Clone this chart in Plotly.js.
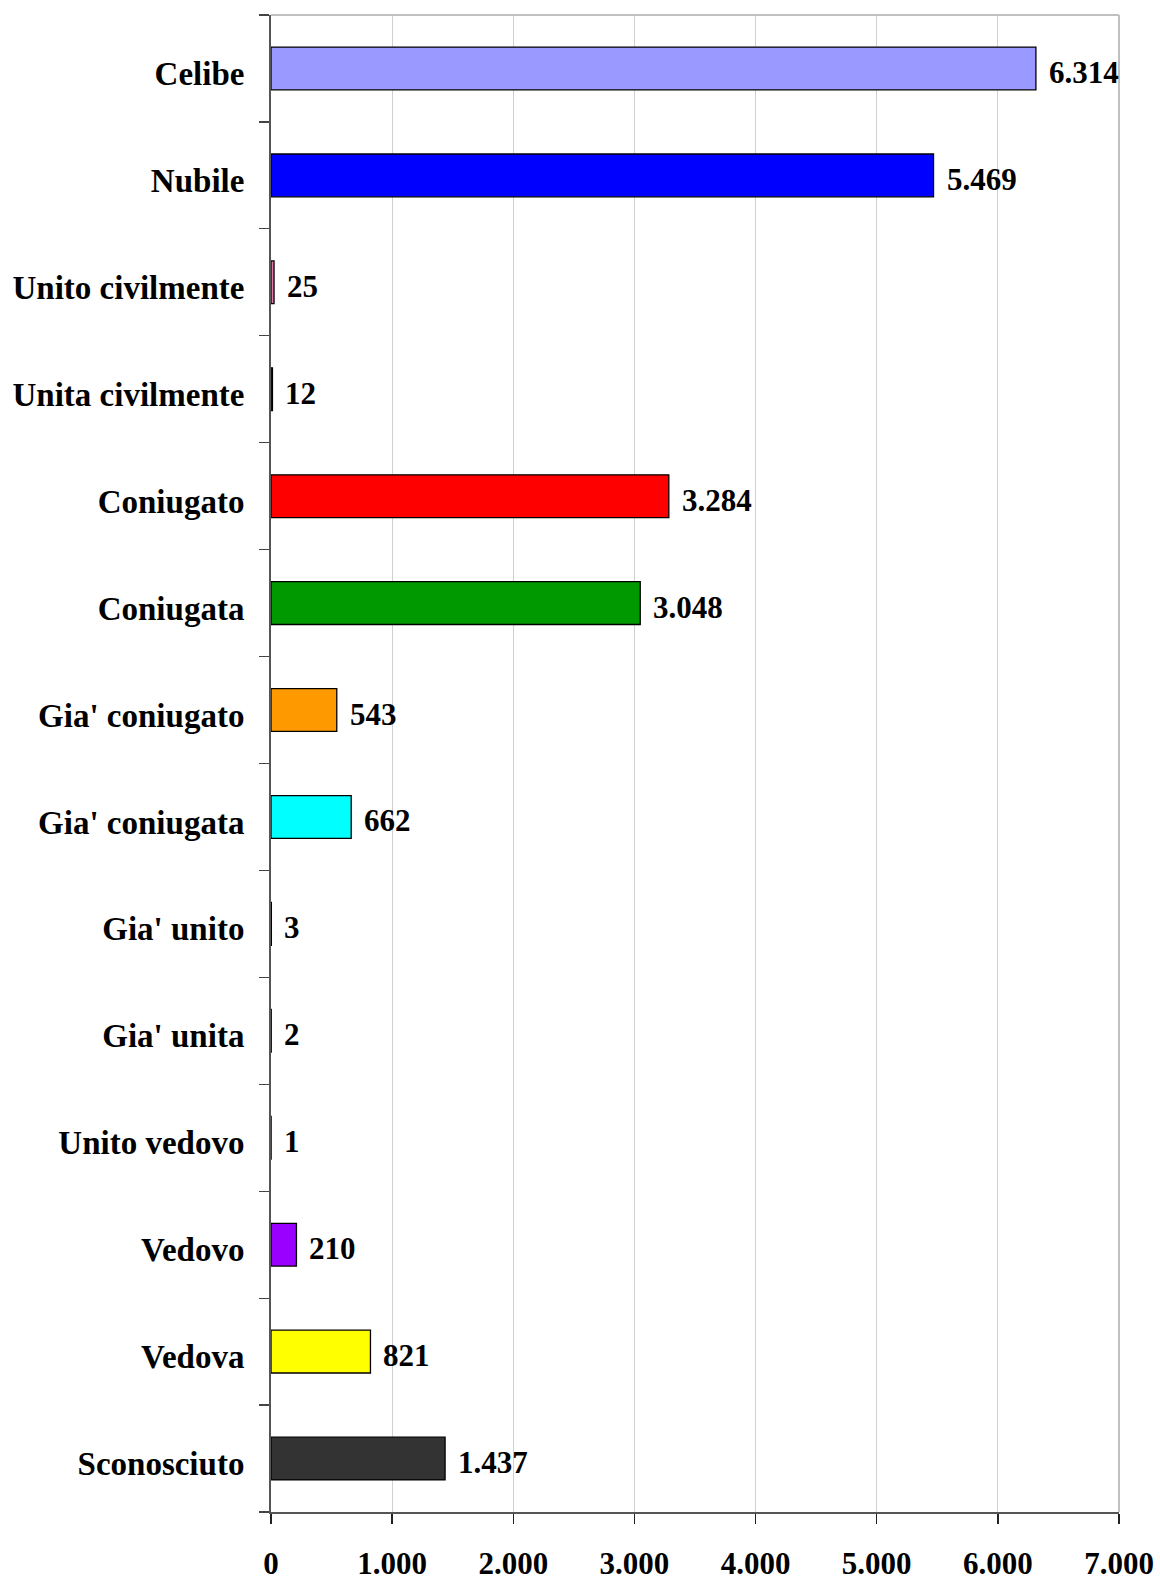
<!DOCTYPE html>
<html>
<head>
<meta charset="utf-8">
<script src="https://cdn.plot.ly/plotly-3.0.1.min.js"></script>
<style>html,body{margin:0;padding:0;background:#fff;}#chart{width:1160px;height:1582px;}</style>
</head>
<body>
<div id="chart"></div>
<script>
const categories = ["Celibe","Nubile","Unito civilmente","Unita civilmente","Coniugato","Coniugata","Gia' coniugato","Gia' coniugata","Gia' unito","Gia' unita","Unito vedovo","Vedovo","Vedova","Sconosciuto"];
const values = [6314,5469,25,12,3284,3048,543,662,3,2,1,210,821,1437];
const barColors = ["#9999FF","#0000FF","#E377A8","#993366","#FF0000","#009900","#FF9900","#00FFFF","#666699","#CC99FF","#FFCC99","#9900FF","#FFFF00","#333333"];
const xTickVals = [0,1000,2000,3000,4000,5000,6000,7000];
const xTickText = ["0","1.000","2.000","3.000","4.000","5.000","6.000","7.000"];

function fmt(v){ return String(v).replace(/\B(?=(\d{3})+(?!\d))/g, "."); }

const FONT = "Liberation Serif, Times New Roman, serif";

const trace = {
  type: "bar",
  orientation: "h",
  y: categories,
  x: values,
  marker: {color: barColors, line: {color: "#000", width: 1.3}},
  hoverinfo: "skip"
};

const annotations = categories.map((c, i) => ({
  x: values[i], y: c, xref: "x", yref: "y",
  text: "<b>" + fmt(values[i]) + "</b>",
  showarrow: false, xanchor: "left", yanchor: "middle",
  xshift: 11, yshift: -4,
  font: {family: FONT, size: 31, color: "#000"}
}));

const layout = {
  width: 1160, height: 1582,
  margin: {l: 271, r: 41, t: 15, b: 70},
  paper_bgcolor: "#fff", plot_bgcolor: "#fff",
  showlegend: false,
  bargap: 0.6,
  font: {family: FONT, size: 31, color: "#000"},
  xaxis: {
    range: [0, 7000],
    tickvals: xTickVals,
    ticktext: xTickText.map(t => "<b>" + t + "</b>"),
    showgrid: true, gridcolor: "#d0d0d0", gridwidth: 1,
    zeroline: false,
    showline: true, linecolor: "#555", linewidth: 2,
    ticks: "outside", ticklen: 10, tickcolor: "#222", tickwidth: 1.5,
    ticklabelstandoff: 13,
    tickfont: {family: FONT, size: 31, color: "#000"},
    fixedrange: true
  },
  yaxis: {
    autorange: "reversed",
    type: "category",
    tickvals: categories,
    ticktext: categories.map(t => "<b>" + t + "</b>"),
    showgrid: false, zeroline: false,
    showline: true, linecolor: "#555", linewidth: 2,
    ticks: "outside", tickson: "boundaries", ticklen: 10, tickcolor: "#444", tickwidth: 1.2,
    ticklabelstandoff: 18,
    ticklabelshift: -5,
    tickfont: {family: FONT, size: 33, color: "#000"},
    fixedrange: true
  },
  shapes: [
    {type: "line", xref: "paper", yref: "paper", x0: 0, x1: 1, y0: 1, y1: 1, line: {color: "#c0c0c0", width: 2}},
    {type: "line", xref: "paper", yref: "paper", x0: 1, x1: 1, y0: 0, y1: 1, line: {color: "#c0c0c0", width: 2}}
  ],
  annotations: annotations
};

Plotly.newPlot("chart", [trace], layout, {displayModeBar: false, staticPlot: true});
</script>
</body>
</html>
